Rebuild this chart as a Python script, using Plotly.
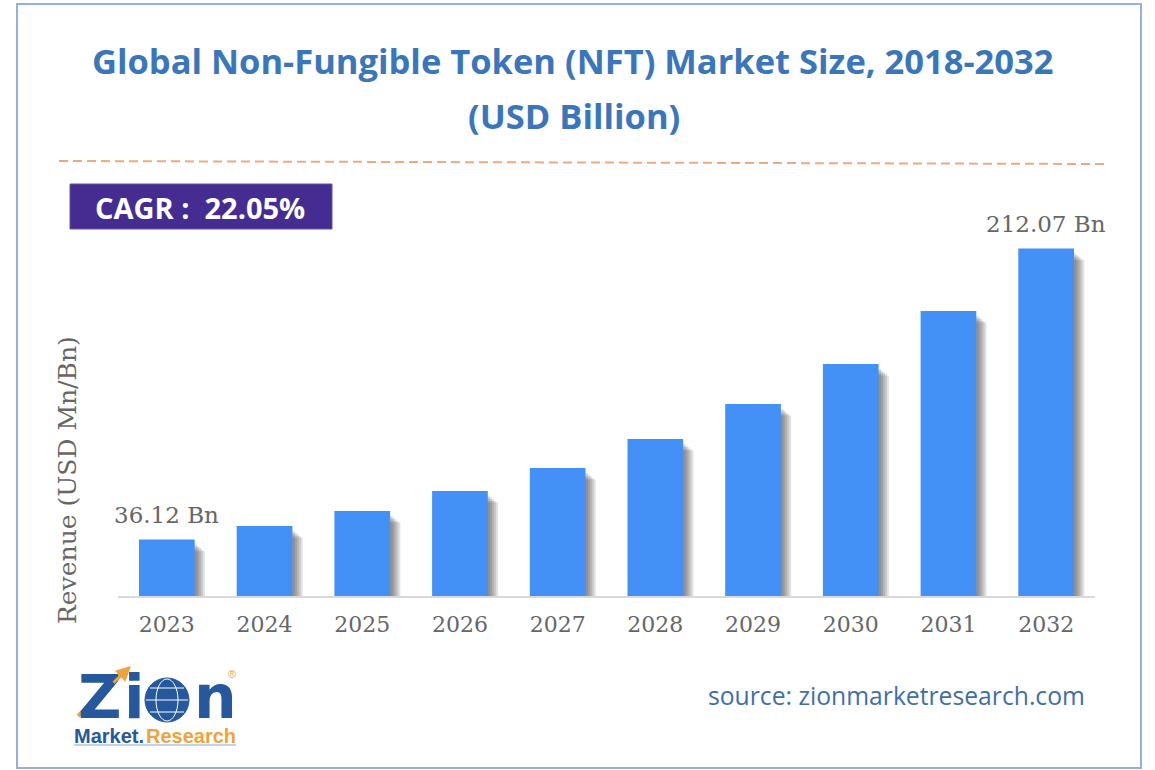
#!/usr/bin/env python3
"""Global NFT market size bar chart, Zion Market Research style"""

import plotly.graph_objects as go

W, H = 1155, 770

years = ["2023", "2024", "2025", "2026", "2027", "2028", "2029", "2030", "2031", "2032"]
revenue = [36.12, 44.3, 53.4, 65.5, 79.4, 96.9, 118.1, 142.3, 174.3, 212.07]
value_labels = ["36.12 Bn", "", "", "", "", "", "", "", "", "212.07 Bn"]

TITLE_BLUE = "#3a76bb"
BAR_BLUE = "#4390f6"
GREY = "#666666"
NAVY = "#25589c"
ORANGE = "#f0a33c"

BASELINE = 596
PX_PER_UNIT = 1.654
Y_MIN = 2


def px(x):
    return x / W


def py(y):
    return 1 - y / H


def label(fig, x, y, text, size, color, family="Open Sans", anchor="center", angle=0):
    fig.add_annotation(
        x=px(x), y=py(y), xref="paper", yref="paper", text=text, showarrow=False,
        xanchor=anchor, yanchor="middle", textangle=angle,
        font=dict(size=size, color=color, family=family),
    )


def rect(fig, x0, y0, x1, y1, **kw):
    fig.add_shape(type="rect", xref="paper", yref="paper",
                  x0=px(x0), x1=px(x1), y0=py(y0), y1=py(y1), **kw)


def line(fig, x0, y0, x1, y1, color, width, dash="solid"):
    fig.add_shape(type="line", xref="paper", yref="paper",
                  x0=px(x0), x1=px(x1), y0=py(y0), y1=py(y1),
                  line=dict(color=color, width=width, dash=dash))


fig = go.Figure()

# soft shadow to the right of each bar
for off, drop in [(0.105, 7), (0.085, 6), (0.065, 5), (0.045, 4), (0.025, 3)]:
    fig.add_trace(go.Bar(
        x=years, y=[v - drop for v in revenue], width=0.57, offset=-0.285 + off,
        marker=dict(color="rgba(50,50,50,0.14)", line_width=0),
        hoverinfo="skip", showlegend=False,
    ))

fig.add_trace(go.Bar(
    x=years, y=revenue, width=0.57, offset=-0.285,
    marker=dict(color=BAR_BLUE, line_width=0),
    showlegend=False,
))

# value labels sit a little higher than plotly's outside bar text
for i, (value, text) in enumerate(zip(revenue, value_labels)):
    if text:
        fig.add_annotation(
            x=i, y=value, text=text, showarrow=False, yanchor="bottom", yshift=10,
            font=dict(family="DejaVu Serif", size=23, color=GREY),
        )

fig.update_layout(
    width=W, height=H, autosize=False,
    margin=dict(l=0, r=0, t=0, b=0),
    paper_bgcolor="white", plot_bgcolor="white",
    barmode="overlay", bargap=0.43,
    xaxis=dict(
        domain=[px(118), px(1095)], type="category", range=[-0.5, 9.5],
        showgrid=False, ticks="", showline=True, linecolor="#d9d9d9", linewidth=2,
        tickfont=dict(family="DejaVu Serif", size=22, color=GREY), ticklen=0,
        ticklabelstandoff=8,
    ),
    yaxis=dict(
        domain=[py(BASELINE), py(180)],
        range=[Y_MIN, Y_MIN + (BASELINE - 180) / PX_PER_UNIT],
        visible=False,
    ),
)

# frame and header
rect(fig, 17, 4, 1141, 768, line=dict(color="#8fb2e3", width=2), fillcolor="rgba(0,0,0,0)", layer="below")
label(fig, 573, 61, "<b>Global Non-Fungible Token (NFT) Market Size, 2018-2032</b>", 34.5, TITLE_BLUE)
label(fig, 574, 115, "<b>(USD Billion)</b>", 34.5, TITLE_BLUE)
line(fig, 59, 161, 1105, 164, "#eeaa7c", 2, "9px,5px")

rect(fig, 70, 184, 332, 229, line=dict(color="#6a50a8", width=1), fillcolor="#452c91")
label(fig, 200, 208, "<b>CAGR :  22.05%</b>", 29, "white")

label(fig, 67, 480, "Revenue (USD Mn/Bn)", 25, GREY, family="DejaVu Serif", angle=-90)
label(fig, 896, 695, "source: zionmarketresearch.com", 24.7, "#3f6fa8")

# logo
label(fig, 100, 697, "<b>Z</b>", 60, NAVY, family="DejaVu Sans")
label(fig, 134, 697, "<b>i</b>", 60, NAVY, family="DejaVu Sans")
fig.add_shape(type="circle", xref="paper", yref="paper",
              x0=px(145), x1=px(189), y0=py(678), y1=py(722),
              fillcolor=NAVY, line=dict(color=NAVY, width=1))
fig.add_shape(type="circle", xref="paper", yref="paper",
              x0=px(156), x1=px(178), y0=py(679), y1=py(721),
              fillcolor="rgba(0,0,0,0)", line=dict(color="white", width=1))
line(fig, 146, 700, 188, 700, "white", 1)
line(fig, 150, 688, 184, 688, "white", 1)
line(fig, 150, 712, 184, 712, "white", 1)
label(fig, 215, 697, "<b>n</b>", 60, NAVY, family="DejaVu Sans")
line(fig, 78, 716, 125, 671, ORANGE, 4)
fig.add_annotation(x=px(131), y=py(666), ax=-19, ay=18, xref="paper", yref="paper",
                   text="", showarrow=True,
                   arrowhead=2, arrowsize=1, arrowwidth=3, arrowcolor=ORANGE)
label(fig, 232, 674, "®", 11, ORANGE, family="Liberation Sans")
label(fig, 109, 736, "<b>Market.</b>", 20, NAVY, family="Liberation Sans")
label(fig, 191, 736, "<b>Research</b>", 20, ORANGE, family="Liberation Sans")
line(fig, 74, 745, 236, 745, "#7fa6d6", 1)

fig.write_html("out.html", post_script="document.body.style.margin='0';",
               config=dict(displayModeBar=False))
